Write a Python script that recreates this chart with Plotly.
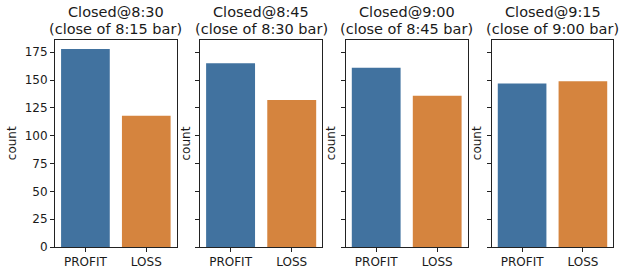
import plotly.graph_objects as go
from plotly.subplots import make_subplots

categories = ["PROFIT", "LOSS"]
title_line1 = ["Closed@8:30", "Closed@8:45", "Closed@9:00", "Closed@9:15"]
title_line2 = ["(close of 8:15 bar)", "(close of 8:30 bar)",
               "(close of 8:45 bar)", "(close of 9:00 bar)"]
counts_830 = [178, 118]
counts_845 = [165, 132]
counts_900 = [161, 136]
counts_915 = [147, 149]
all_counts = [counts_830, counts_845, counts_900, counts_915]
colors = ["#41729f", "#d5843e"]
yticks = [0, 25, 50, 75, 100, 125, 150, 175]

W, H = 625, 277
fig = make_subplots(rows=1, cols=4, shared_yaxes=True)

x_px = [(55, 176.7), (200, 322.3), (345.7, 467.7), (491.7, 613.3)]
y_bot, y_top = 247, 40
font = dict(family="DejaVu Sans", color="#1a1a1a")

for i, vals in enumerate(all_counts):
    fig.add_trace(go.Bar(x=categories, y=vals, width=0.8,
                         marker=dict(color=colors, line=dict(width=0)),
                         showlegend=False), row=1, col=i + 1)
    xa = "xaxis" if i == 0 else f"xaxis{i+1}"
    ya = "yaxis" if i == 0 else f"yaxis{i+1}"
    x0, x1 = x_px[i]
    fig.layout[xa].update(domain=[x0 / W, x1 / W], range=[-0.5, 1.5],
                          automargin=False,
                          showline=True, mirror=True, linecolor="#222",
                          linewidth=1, ticks="outside", ticklen=4,
                          tickcolor="#222", showgrid=False,
                          tickfont=dict(size=12, **font))
    fig.layout[ya].update(domain=[(H - y_bot) / H, (H - y_top) / H],
                          range=[0, 186], tickvals=yticks,
                          automargin=False,
                          showticklabels=(i == 0),
                          showline=True, mirror=True, linecolor="#222",
                          linewidth=1, ticks="outside", ticklen=4,
                          tickcolor="#222", showgrid=False, zeroline=False,
                          tickfont=dict(size=12, **font))
    cx = (x0 + x1) / 2 / W
    fig.add_annotation(x=cx, y=(H - 11.5) / H, xref="paper", yref="paper",
                       text=title_line1[i], showarrow=False,
                       xanchor="center", yanchor="middle",
                       font=dict(size=14.5, **font))
    fig.add_annotation(x=cx, y=(H - 29.5) / H, xref="paper", yref="paper",
                       text=title_line2[i], showarrow=False,
                       xanchor="center", yanchor="middle",
                       font=dict(size=14.5, **font))
    lab_x = 11.7 if i == 0 else x0 - 15
    fig.add_annotation(x=lab_x / W, y=(H - (y_bot + y_top) / 2) / H,
                       xref="paper", yref="paper", text="count",
                       textangle=-90, showarrow=False, xanchor="center",
                       yanchor="middle", font=dict(size=12, **font))

fig.update_layout(width=W, height=H, margin=dict(l=0, r=0, t=0, b=0),
                  plot_bgcolor="white", paper_bgcolor="white",
                  bargap=0.2, font=font)
fig.write_html("out.html")
